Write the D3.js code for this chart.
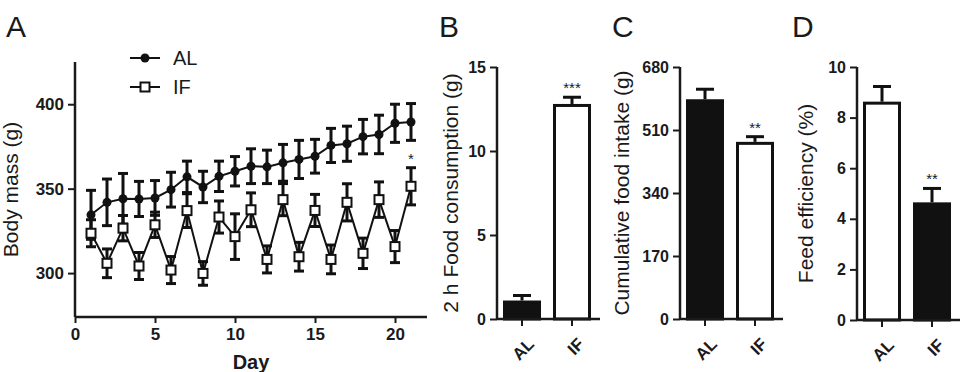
<!DOCTYPE html>
<html>
<head>
<meta charset="utf-8">
<script src="https://cdn.jsdelivr.net/npm/d3@7/dist/d3.min.js"></script>
<style>
  html, body { margin: 0; padding: 0; background: #fff; }
  svg { display: block; }
  text { font-family: "Liberation Sans", Arial, sans-serif; fill: #1a1a1a; }
</style>
</head>
<body>
<svg id="chart" width="965" height="372"></svg>
<script>
// ---------- DATA ----------
// Panel A: body mass over days
const days = [1,2,3,4,5,6,7,8,9,10,11,12,13,14,15,16,17,18,19,20,21];
const alMass = [334.5,341.9,344,343.9,344.5,349.4,357,351,357.3,360.3,363.3,362.9,365.3,367.3,369.2,375.6,376.6,380.8,382.1,388.7,389.5];
const alMassSE = [14.5,13.8,15,10.4,10.3,10.3,9.3,9.3,9,8.7,10.3,9.9,10.9,11.3,10,10.1,10.4,10.2,11.4,11.3,10.9];
const ifMass = [323.6,305.8,326.6,304.2,328.6,301.8,337,299.8,333.2,321.6,337.5,308.1,343.5,309.7,337.1,308.1,341.9,311.7,343.5,315.7,351.4];
const ifMassSE = [8,8.5,7.5,8,7.5,8,10,7,9.5,13.5,10,8,9.5,8.5,9.5,8.5,11,9,10.5,9.5,11];
const massTicks = [300,350,400];
const dayTicks = [0,5,10,15,20];
const seriesNames = ["AL","IF"];

// Bar panels
const groups = ["AL","IF"];
const food2h = [1.1, 12.8];
const food2hSE = [0.3, 0.4];
const food2hTicks = [0,5,10,15];
const cumIntake = [593, 478];
const cumIntakeSE = [27, 14];
const cumIntakeTicks = [0,170,340,510,680];
const feedEff = [8.63, 4.65];
const feedEffSE = [0.6, 0.55];
const feedEffTicks = [0,2,4,6,8,10];

const svg = d3.select("#chart");
svg.append("rect").attr("width",965).attr("height",372).attr("fill","#fff");

// ---------- Panel letters ----------
const letters = [["A",6],["B",439],["C",612],["D",792]];
svg.selectAll("text.letter").data(letters).enter().append("text")
  .attr("class","letter").attr("x",d=>d[1]).attr("y",37)
  .attr("font-size",30).text(d=>d[0]);

// ---------- Panel A ----------
const xA = d3.scaleLinear().domain([0,22]).range([75,427]);
const yA = d3.scaleLinear().domain([274,425]).range([317,62]);

const gA = svg.append("g");
const yAxisA = d3.axisLeft(yA).tickValues(massTicks).tickSize(7).tickPadding(4);
const yAg = gA.append("g").attr("transform","translate(75,0)").call(yAxisA);
const xAxisA = d3.axisBottom(xA).tickValues(dayTicks).tickSize(6).tickPadding(5);
const xAg = gA.append("g").attr("transform","translate(0,317)").call(xAxisA);
[yAg, xAg].forEach(g => {
  g.select(".domain").attr("stroke","#1a1a1a").attr("stroke-width",2.5);
  g.selectAll(".tick line").attr("stroke","#1a1a1a").attr("stroke-width",2);
  g.selectAll(".tick text").attr("font-size",17).attr("font-weight","bold").attr("fill","#1a1a1a");
});
yAg.select(".domain").attr("d", `M0,${yA.range()[1]}V${yA.range()[0]}`);
xAg.select(".domain").attr("d", `M${xA.range()[0]},0H${xA.range()[1]}`);

gA.append("text").attr("transform",`translate(18,${(62+317)/2}) rotate(-90)`)
  .attr("text-anchor","middle").attr("font-size",21).text("Body mass (g)");
gA.append("text").attr("x",(75+427)/2).attr("y",369).attr("text-anchor","middle")
  .attr("font-size",20).attr("font-weight","bold").text("Day");

function drawSeries(means, ses, marker) {
  const pts = days.map((d,i)=>({d, m:means[i], s:ses[i]}));
  const line = d3.line().x(p=>xA(p.d)).y(p=>yA(p.m));
  gA.append("path").datum(pts).attr("d",line).attr("fill","none")
    .attr("stroke","#111").attr("stroke-width",2);
  const eb = gA.append("g").attr("stroke","#111").attr("stroke-width",3);
  pts.forEach(p=>{
    const x = xA(p.d), y1 = yA(p.m+p.s), y0 = yA(p.m-p.s);
    eb.append("line").attr("x1",x).attr("x2",x).attr("y1",y1).attr("y2",y0);
    eb.append("line").attr("x1",x-5).attr("x2",x+5).attr("y1",y1).attr("y2",y1);
    eb.append("line").attr("x1",x-5).attr("x2",x+5).attr("y1",y0).attr("y2",y0);
  });
  if (marker === "circle") {
    gA.selectAll(null).data(pts).enter().append("circle")
      .attr("cx",p=>xA(p.d)).attr("cy",p=>yA(p.m)).attr("r",4.5).attr("fill","#111");
  } else {
    gA.selectAll(null).data(pts).enter().append("rect")
      .attr("x",p=>xA(p.d)-4.5).attr("y",p=>yA(p.m)-4.5).attr("width",9).attr("height",9)
      .attr("fill","#fff").attr("stroke","#111").attr("stroke-width",2);
  }
}
drawSeries(alMass, alMassSE, "circle");
drawSeries(ifMass, ifMassSE, "square");
gA.append("text").attr("x",xA(days[20])).attr("y",yA(ifMass[20]+ifMassSE[20])-4)
  .attr("text-anchor","middle").attr("font-size",15).attr("fill","#555").text("*");

// Legend
const leg = gA.append("g");
[0,1].forEach(i=>{
  const y = 58 + i*29;
  leg.append("line").attr("x1",130).attr("x2",160).attr("y1",y).attr("y2",y)
    .attr("stroke","#111").attr("stroke-width",2);
  if (i===0) leg.append("circle").attr("cx",145).attr("cy",y).attr("r",4.5).attr("fill","#111");
  else leg.append("rect").attr("x",140.5).attr("y",y-4.5).attr("width",9).attr("height",9)
    .attr("fill","#fff").attr("stroke","#111").attr("stroke-width",2);
  leg.append("text").attr("x",173).attr("y",y+7).attr("font-size",20).text(seriesNames[i]);
});

// ---------- Bar panels ----------
function barPanel(cfg) {
  const g = svg.append("g");
  const x = d3.scaleBand().domain(groups).range([cfg.x0, cfg.x0+100])
    .paddingInner(0.24).paddingOuter(0.12);
  const y = d3.scaleLinear().domain([0, cfg.ticks[cfg.ticks.length-1]]).range([cfg.y0, 67]);
  groups.forEach((k,i)=>{
    const v = cfg.values[i], s = cfg.se[i];
    const bx = x(k), bw = x.bandwidth();
    const cx = bx + bw/2;
    g.append("line").attr("x1",cx).attr("x2",cx).attr("y1",y(v)).attr("y2",y(v+s))
      .attr("stroke","#111").attr("stroke-width",3);
    g.append("line").attr("x1",cx-9).attr("x2",cx+9).attr("y1",y(v+s)).attr("y2",y(v+s))
      .attr("stroke","#111").attr("stroke-width",3);
    const black = cfg.fills[i] === "black";
    g.append("rect").attr("x",bx+1.5).attr("y",y(v)+1.5).attr("width",bw-3)
      .attr("height",y(0)-y(v)-1.5)
      .attr("fill", black ? "#111" : "#fff").attr("stroke","#111").attr("stroke-width",3);
    if (cfg.sig[i]) {
      g.append("text").attr("x",cx).attr("y",y(v+s)-4).attr("text-anchor","middle")
        .attr("font-size",15).attr("fill","#666").text(cfg.sig[i]);
    }
  });
  const yAx = d3.axisLeft(y).tickValues(cfg.ticks).tickSize(7).tickPadding(4);
  const yg = g.append("g").attr("transform",`translate(${cfg.x0},0)`).call(yAx);
  const xAx = d3.axisBottom(x).tickSize(7).tickPadding(4);
  const xg = g.append("g").attr("transform",`translate(0,${cfg.y0})`).call(xAx);
  [yg, xg].forEach(a=>{
    a.select(".domain").attr("stroke","#1a1a1a").attr("stroke-width",2.5);
    a.selectAll(".tick line").attr("stroke","#1a1a1a").attr("stroke-width",2);
    a.selectAll(".tick text").attr("font-size",16).attr("font-weight","bold").attr("fill","#1a1a1a");
  });
  yg.select(".domain").attr("d",`M0,67V${cfg.y0}`);
  xg.select(".domain").attr("d",`M${cfg.x0},0H${cfg.x0+103}`);
  xg.selectAll(".tick text").attr("text-anchor","end").attr("x",0).attr("y",0)
    .attr("font-size",17)
    .attr("transform","translate(9,22) rotate(-45)").attr("dy","0.35em");
  g.append("text").attr("transform",`translate(${cfg.titleX},${(67+cfg.y0)/2}) rotate(-90)`)
    .attr("text-anchor","middle").attr("font-size",21).text(cfg.title);
}

barPanel({x0:497, y0:319, values:food2h, se:food2hSE, ticks:food2hTicks,
  fills:["black","white"], sig:["","***"], title:"2 h Food consumption (g)", titleX:458});
barPanel({x0:680, y0:319, values:cumIntake, se:cumIntakeSE, ticks:cumIntakeTicks,
  fills:["black","white"], sig:["","**"], title:"Cumulative food intake (g)", titleX:629});
barPanel({x0:857, y0:320, values:feedEff, se:feedEffSE, ticks:feedEffTicks,
  fills:["white","black"], sig:["","**"], title:"Feed efficiency (%)", titleX:813});
</script>
</body>
</html>
